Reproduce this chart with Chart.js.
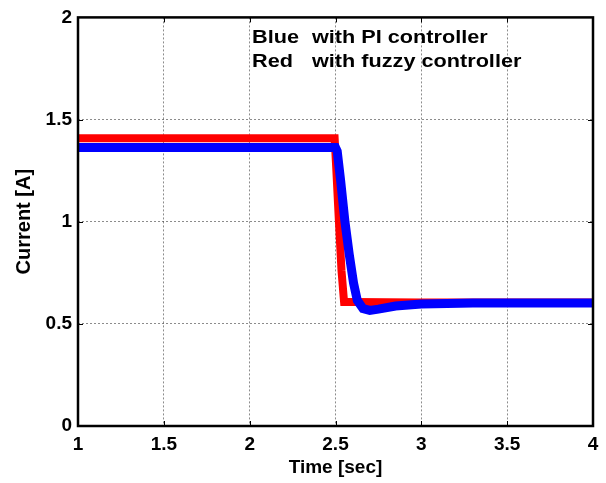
<!DOCTYPE html>
<html>
<head>
<meta charset="utf-8">
<script src="https://cdn.jsdelivr.net/npm/chart.js@4.4.1/dist/chart.umd.min.js"></script>
<style>
  html, body { margin: 0; padding: 0; background: #fff; }
  canvas { display: block; }
</style>
</head>
<body>
<canvas id="c" width="606" height="483"></canvas>
<script>
// PI controller (blue)
var timeBlue = [1, 2.5, 2.51, 2.53, 2.555, 2.58, 2.605, 2.627, 2.66, 2.70, 2.75, 2.85, 3.0, 3.3, 4];
var currentBlue = [1.363, 1.363, 1.345, 1.2, 1.0, 0.84, 0.70, 0.615, 0.575, 0.566, 0.572, 0.587, 0.597, 0.602, 0.602];

// fuzzy controller (red)
var timeRed = [1, 2.495, 2.505, 2.52, 2.535, 2.55, 2.6, 3.0, 4];
var currentRed = [1.408, 1.408, 1.25, 1.0, 0.76, 0.607, 0.607, 0.605, 0.605];

var xTicks = [1, 1.5, 2, 2.5, 3, 3.5, 4];
var yTicks = [0, 0.5, 1, 1.5, 2];

var legendLines = ['Blue', 'Red'];
var legendText = ['with PI controller', 'with fuzzy controller'];

function pts(xs, ys) {
  return xs.map(function (x, i) { return { x: x, y: ys[i] }; });
}

var FAMILY = '"Liberation Sans", Arial, sans-serif';
var tickFont = { family: FAMILY, size: 19, weight: 'bold' };

// box around the plot + small inward ticks + the text in the corner
var boxPlugin = {
  id: 'box',
  afterDraw: function (chart) {
    var ctx = chart.ctx, a = chart.chartArea;
    var sx = chart.scales.x, sy = chart.scales.y;
    ctx.save();
    ctx.strokeStyle = '#000';
    ctx.lineWidth = 1;
    xTicks.forEach(function (v) {
      var px = Math.round(sx.getPixelForValue(v)) + 0.5;
      ctx.beginPath();
      ctx.moveTo(px, a.bottom); ctx.lineTo(px, a.bottom - 5);
      ctx.moveTo(px, a.top); ctx.lineTo(px, a.top + 5);
      ctx.stroke();
    });
    yTicks.forEach(function (v) {
      var py = Math.round(sy.getPixelForValue(v)) + 0.5;
      ctx.beginPath();
      ctx.moveTo(a.left, py); ctx.lineTo(a.left + 5, py);
      ctx.moveTo(a.right, py); ctx.lineTo(a.right - 5, py);
      ctx.stroke();
    });
    ctx.lineWidth = 2.5;
    ctx.strokeRect(a.left, a.top, a.right - a.left, a.bottom - a.top);

    // text in the figure is a little wider than the font, stretch it a bit
    ctx.fillStyle = '#000';
    ctx.font = 'bold 19px ' + FAMILY;
    ctx.textBaseline = 'middle';
    var x0 = sx.getPixelForValue(2.014);
    var x1 = sx.getPixelForValue(2.363);
    [1.902, 1.782].forEach(function (v, i) {
      var py = sy.getPixelForValue(v);
      [[x0, legendLines[i]], [x1, legendText[i]]].forEach(function (t) {
        ctx.save();
        ctx.translate(t[0], py);
        ctx.scale(1.14, 1);
        ctx.fillText(t[1], 0, 0);
        ctx.restore();
      });
    });
    ctx.restore();
  }
};

new Chart(document.getElementById('c'), {
  type: 'line',
  data: {
    datasets: [
      {
        label: 'PI controller',
        data: pts(timeBlue, currentBlue),
        borderColor: '#0000ff',
        borderWidth: 9,
        pointRadius: 0,
        tension: 0,
        fill: false
      },
      {
        label: 'fuzzy controller',
        data: pts(timeRed, currentRed),
        borderColor: '#ff0000',
        borderWidth: 8,
        pointRadius: 0,
        tension: 0,
        fill: false
      }
    ]
  },
  options: {
    responsive: false,
    animation: false,
    layout: { padding: { top: 16, right: 13, left: 0, bottom: 0 } },
    plugins: { legend: { display: false }, tooltip: { enabled: false } },
    scales: {
      x: {
        type: 'linear',
        min: 1, max: 4,
        afterBuildTicks: function (s) { s.ticks = xTicks.map(function (v) { return { value: v }; }); },
        afterFit: function (s) { s.height = 57; },
        ticks: {
          color: '#000', font: tickFont, padding: 7, maxRotation: 0,
          callback: function (v) { return String(v); }
        },
        grid: { color: 'rgba(0,0,0,0.45)', lineWidth: 1, drawTicks: false },
        border: { display: false, dash: [2, 2] },
        title: {
          display: true, text: 'Time [sec]', color: '#000',
          font: { family: FAMILY, size: 19, weight: 'bold' },
          padding: { top: 0, bottom: 4 }
        }
      },
      y: {
        type: 'linear',
        min: 0, max: 2,
        afterBuildTicks: function (s) { s.ticks = yTicks.map(function (v) { return { value: v }; }); },
        afterFit: function (s) { s.width = 78; },
        ticks: {
          color: '#000', font: tickFont, padding: 6,
          callback: function (v) { return String(v); }
        },
        grid: { color: 'rgba(0,0,0,0.45)', lineWidth: 1, drawTicks: false },
        border: { display: false, dash: [2, 2] },
        title: {
          display: true, text: 'Current [A]', color: '#000',
          font: { family: FAMILY, size: 20, weight: 'bold' },
          padding: { top: 12, bottom: 0 }
        }
      }
    }
  },
  plugins: [boxPlugin]
});
</script>
</body>
</html>
